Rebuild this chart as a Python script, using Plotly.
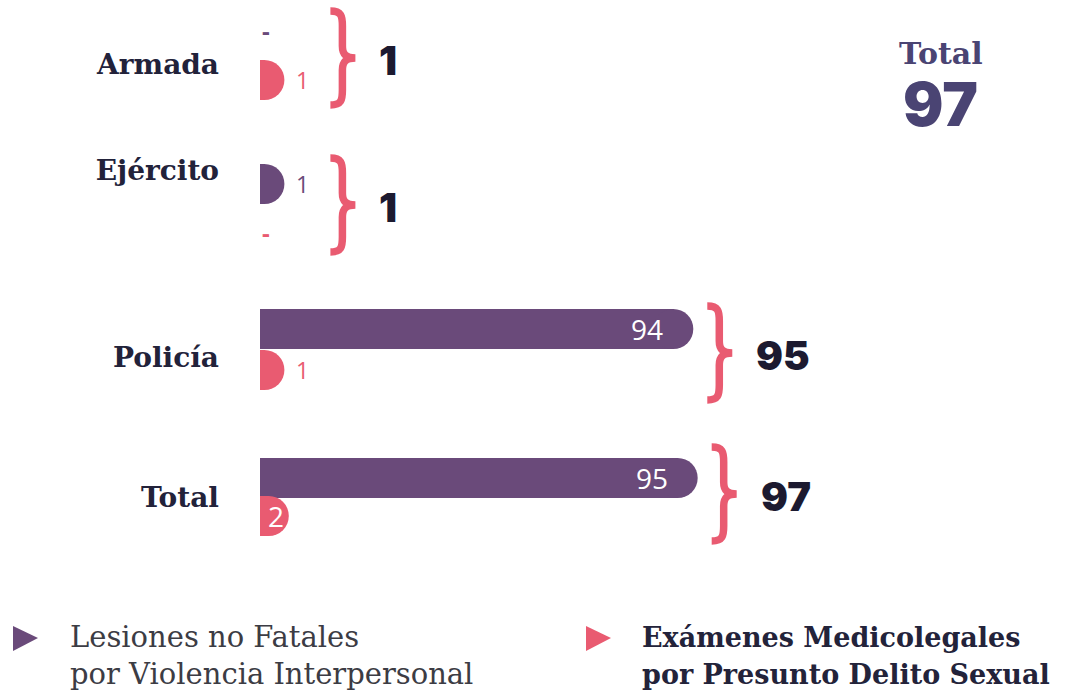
import plotly.graph_objects as go

# ---- data -------------------------------------------------------------
categories = ["Armada", "Ejército", "Policía", "Total"]
lesiones = [0, 1, 94, 95]   # Lesiones no Fatales por Violencia Interpersonal
examenes = [1, 0, 1, 2]     # Exámenes Medicolegales por Presunto Delito Sexual
totales = [1, 1, 95, 97]
gran_total = 97

# ---- layout constants (pixels) ----------------------------------------
W, H = 1069, 693
ML = 260            # left edge of the bars
XMAX = 184          # x-range of the plotting area
SCALE = (W - ML) / XMAX
R = 20              # radius of the rounded bar end
BAR_H = 40
PURPLE_Y = [30, 184, 329, 478]
PINK_Y = [80, 232, 370, 516]
LABEL_Y = [64, 170, 357, 497]
BRACE_Y = [58, 205, 353, 494]

PURPLE = "#6a4a7a"
PINK = "#e95b71"
NAVY = "#1c1a30"
HEAD = "#4a4473"
SLAB = "DejaVu Serif"
SANS = "Open Sans"
HEAVY = "Inter"

# curly brace opening to the left, drawn in pixels around its anchor
BRACE_PATH = ("M 0,47 C 11,47 12,42 12,32 L 12,12 C 12,4 15,0 25,0 "
              "C 15,0 12,-4 12,-12 L 12,-32 C 12,-42 11,-47 0,-47")


def xp(px):
    return (px - ML) / (W - ML)


def yp(py):
    return 1 - py / H


def shifted_path(path, dx):
    """Move a pixel-space SVG path horizontally by dx pixels."""
    out = []
    for tok in path.split():
        if tok.isalpha():
            out.append(tok)
        else:
            x, y = tok.split(",")
            out.append(f"{float(x) + dx},{y}")
    return " ".join(out)


fig = go.Figure()
annotations = []
shapes = []

series = [
    (lesiones, PURPLE_Y, PURPLE, "Lesiones no Fatales por Violencia Interpersonal"),
    (examenes, PINK_Y, PINK, "Exámenes Medicolegales por Presunto Delito Sexual"),
]

for vals, ys, color, name in series:
    fig.add_trace(go.Bar(
        x=vals, y=ys, orientation="h", width=BAR_H, name=name,
        marker=dict(color=color, line=dict(width=0)),
        showlegend=False, hoverinfo="x+name",
    ))
    # rounded end of every non-empty bar (clipped at the axis start)
    cap_x = [v for v in vals if v > 0]
    cap_y = [y for v, y in zip(vals, ys) if v > 0]
    fig.add_trace(go.Scatter(
        x=cap_x, y=cap_y, mode="markers", cliponaxis=True,
        marker=dict(size=2 * R, color=color, line=dict(width=0)),
        showlegend=False, hoverinfo="skip",
    ))
    for v, y in zip(vals, ys):
        if v == 0:
            annotations.append(dict(
                x=0, y=y, xref="x", yref="y", text="-", showarrow=False,
                xanchor="left", yanchor="middle", xshift=0,
                font=dict(family=SANS, size=24, color=color, weight="bold")))
        elif v == 1:
            annotations.append(dict(
                x=v, y=y, xref="x", yref="y", text=str(v), showarrow=False,
                xanchor="left", yanchor="middle", xshift=R + 10,
                font=dict(family=SANS, size=23, color=color)))
        else:
            shift = -8 if v * SCALE > 40 else R - 3
            annotations.append(dict(
                x=v, y=y, xref="x", yref="y", text=str(v), showarrow=False,
                xanchor="right", yanchor="middle", xshift=shift,
                font=dict(family=SANS, size=28, color="white")))

# braces and row totals
for i, tot in enumerate(totales):
    vmax = max(lesiones[i], examenes[i])
    gap = 46 if vmax <= 1 else 14
    shapes.append(dict(
        type="path", xref="x", yref="y",
        xsizemode="pixel", ysizemode="pixel",
        xanchor=vmax, yanchor=BRACE_Y[i],
        path=shifted_path(BRACE_PATH, R + gap),
        line=dict(color=PINK, width=7.5), fillcolor="rgba(0,0,0,0)"))
    annotations.append(dict(
        x=vmax, y=BRACE_Y[i] + 2, xref="x", yref="y", text=str(tot), showarrow=False,
        xanchor="left", yanchor="middle", xshift=R + gap + 47,
        font=dict(family=HEAVY, size=40, color=NAVY, weight=900)))

# overall total, top right
annotations.append(dict(
    x=xp(941), y=yp(53), xref="paper", yref="paper", text="Total", showarrow=False,
    xanchor="center", yanchor="middle",
    font=dict(family=SLAB, size=30, color=HEAD, weight="bold")))
annotations.append(dict(
    x=xp(940), y=yp(104), xref="paper", yref="paper", text=str(gran_total), showarrow=False,
    xanchor="center", yanchor="middle",
    font=dict(family=HEAVY, size=60, color=HEAD, weight=900)))

# legend
legend_items = [
    (13, 68, PURPLE, ["Lesiones no Fatales", "por Violencia Interpersonal"], "#3c3c44", "normal", 29),
    (586, 640, PINK, ["Exámenes Medicolegales", "por Presunto Delito Sexual"], "#23233a", "bold", 27),
]
for tri_x, txt_x, color, lines, tcolor, weight, size in legend_items:
    x0, x1 = xp(tri_x), xp(tri_x + 25)
    y0, ym, y1 = yp(626), yp(638), yp(651)
    shapes.append(dict(
        type="path", xref="paper", yref="paper",
        path=f"M {x0},{y0} L {x1},{ym} L {x0},{y1} Z",
        fillcolor=color, line=dict(width=0)))
    for k, line in enumerate(lines):
        annotations.append(dict(
            x=xp(txt_x), y=yp(637 + 37 * k), xref="paper", yref="paper",
            text=line, showarrow=False, xanchor="left", yanchor="middle",
            font=dict(family=SLAB, size=size, color=tcolor, weight=weight)))

fig.update_layout(
    width=W, height=H,
    margin=dict(l=ML, r=0, t=0, b=0),
    paper_bgcolor="white", plot_bgcolor="white",
    barmode="overlay", showlegend=False,
    xaxis=dict(range=[0, XMAX], visible=False, fixedrange=True),
    yaxis=dict(
        range=[H, 0], tickmode="array", tickvals=LABEL_Y, ticktext=categories,
        showgrid=False, zeroline=False, showline=False, ticks="",
        ticklabelstandoff=40, fixedrange=True,
        tickfont=dict(family=SLAB, size=28, color="#22223a", weight="bold")),
    annotations=annotations,
    shapes=shapes,
)

fig.write_html("out.html")
